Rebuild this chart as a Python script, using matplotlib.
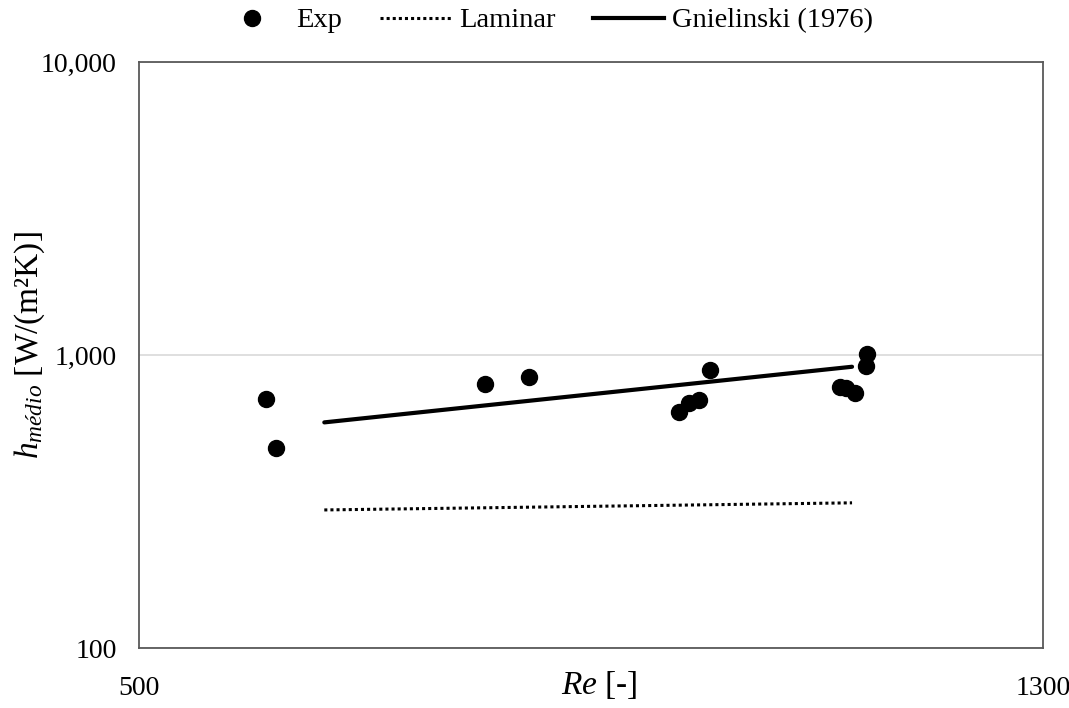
import matplotlib
matplotlib.use("Agg")
import matplotlib.pyplot as plt
from matplotlib.lines import Line2D
from matplotlib.ticker import FixedLocator, FuncFormatter

plt.rcParams["font.family"] = ["Liberation Serif", "DejaVu Serif"]
plt.rcParams["mathtext.fontset"] = "custom"
plt.rcParams["mathtext.rm"] = "Liberation Serif"
plt.rcParams["mathtext.it"] = "Liberation Serif:italic"

# Experimental data
re_exp = [612, 621, 806, 845, 978, 987, 996, 1005, 1120, 1126, 1134, 1143, 1144]
h_exp = [708, 482, 796, 841, 639, 686, 702, 889, 778, 770, 741, 916, 1007]

# Correlations
re_corr = [664, 1131]
h_laminar = [296, 313]
h_gnielinski = [589, 912]

x_ticks = [500, 1300]
y_ticks = [100, 1000, 10000]

fig = plt.figure(figsize=(10.69, 7.08), dpi=100)
ax = fig.add_axes([0.130, 0.0847, 0.8457, 0.8277])

ax.plot(re_corr, h_laminar, color="black", linestyle=(0, (1, 1)), linewidth=2.2,
        label="Laminar", zorder=2)
ax.plot(re_corr, h_gnielinski, color="black", linestyle="-", linewidth=3.0,
        label="Gnielinski (1976)", zorder=2, solid_capstyle="round")
ax.plot(re_exp, h_exp, linestyle="none", marker="o", markersize=11.5,
        color="black", label="Exp", zorder=3)

ax.set_yscale("log")
ax.set_xlim(500, 1300)
ax.set_ylim(100, 10000)
ax.xaxis.set_major_locator(FixedLocator(x_ticks))
ax.yaxis.set_major_locator(FixedLocator(y_ticks))
ax.yaxis.set_minor_locator(FixedLocator([]))
ax.yaxis.set_major_formatter(FuncFormatter(lambda v, p: f"{int(round(v)):,}"))
ax.xaxis.set_major_formatter(FuncFormatter(lambda v, p: f"{int(round(v))}"))

ax.tick_params(axis="both", length=0, labelsize=20)
ax.tick_params(axis="x", pad=20)
ax.tick_params(axis="y", pad=16)

ax.grid(axis="y", which="major", color="#d9d9d9", linewidth=1.2)
ax.set_axisbelow(True)
for s in ax.spines.values():
    s.set_color("#595959")
    s.set_linewidth(1.3)

ax.set_xlabel(r"$Re$ [-]", fontsize=24)
ax.xaxis.set_label_coords(0.509, -0.036)
ax.set_ylabel(r"$h_{médio}$ [W/(m²K)]", fontsize=24)
ax.yaxis.set_label_coords(-0.102, 0.517)

handles = [
    Line2D([], [], linestyle="none", marker="o", markersize=11.5, color="black"),
    Line2D([], [], color="black", linestyle=(0, (1, 1)), linewidth=2.2),
    Line2D([], [], color="black", linestyle="-", linewidth=3.0),
]
fig.legend(handles, ["Exp", "Laminar", "Gnielinski (1976)"], loc="center",
           bbox_to_anchor=(0.510, 0.971), ncol=3, frameon=False, fontsize=20.5,
           handlelength=2.5, handletextpad=0.3, columnspacing=1.3)

fig.savefig("out.png", dpi=100, facecolor="white")
